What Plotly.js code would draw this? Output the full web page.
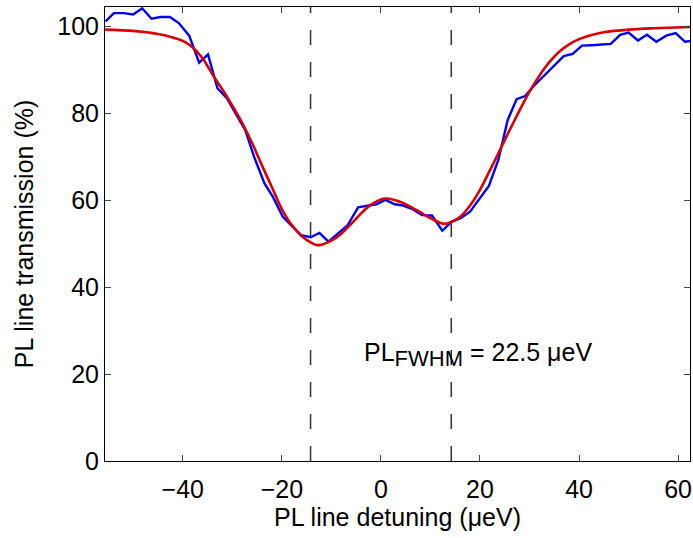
<!DOCTYPE html>
<html>
<head>
<meta charset="utf-8">
<script src="https://cdn.plot.ly/plotly-3.0.1.min.js"></script>
<style>html,body{margin:0;padding:0;background:#fff;}#chart{width:693px;height:538px;}</style>
</head>
<body>
<div id="chart"></div>
<script>
// Measured PL line transmission (blue)
const measX = [-55.6,-53.9,-51.9,-50.0,-48.2,-46.3,-44.5,-42.6,-40.8,-38.7,-36.7,-34.9,-33.0,-31.1,-29.2,-27.4,-25.6,-23.5,-21.8,-19.8,-17.8,-16.1,-14.2,-12.4,-10.6,-8.7,-6.7,-4.6,-2.6,-0.9,0.9,2.8,4.5,6.5,8.3,10.3,12.4,14.3,16.1,18.0,20.0,21.8,23.7,25.6,27.4,29.1,31.1,33.1,35.0,36.9,38.7,40.6,42.5,44.4,46.4,48.3,50.0,51.9,53.7,55.6,57.6,59.5,61.4,63.2];
const measY = [101.2,103.1,103.1,102.8,104.2,101.8,102.2,102.2,100.8,97.9,91.7,93.6,85.8,83.5,79.7,76.2,70.0,63.9,60.8,56.2,53.9,52.0,51.5,52.5,50.5,52.4,54.3,58.4,58.8,59.1,60.1,59.1,58.8,57.9,56.6,56.5,53.0,55.1,55.9,57.4,60.5,63.3,69.3,78.5,83.3,84.0,86.6,88.9,91.2,93.2,93.7,95.6,95.7,95.8,96.0,98.1,98.6,96.8,98.1,96.5,97.9,98.5,96.5,96.8];
// Fit (red)
const fitX = [-55.7,-50,-45,-42,-40,-38,-36,-34,-32,-30,-28,-26,-24,-22,-20,-18,-16,-14,-13,-12,-10,-8,-6,-4,-2,0,1,2,4,6,8,10,12,13,14,16,18,20,22,24,26,28,30,32,34,36,38,40,42,45,50,55,62.4];
const fitY = [99.3,99.0,98.3,97.5,96.7,95.2,92.7,89.0,85.5,81.8,77.8,73.2,68.0,63.0,58.0,54.3,51.8,50.2,49.7,49.8,50.7,52.3,54.6,57.0,59.0,60.2,60.4,60.3,59.6,58.5,57.2,55.9,54.8,54.6,54.9,56.2,58.8,62.4,66.9,71.5,76.2,80.7,85.0,88.7,91.8,94.2,95.9,97.1,97.9,98.7,99.3,99.6,99.9];
// FWHM markers
const fwhmX = [-14.2, 14.2];
const xTicks = [-40,-20,0,20,40,60];
const yTicks = [0,20,40,60,80,100];
const xRange = [-55.7, 62.4];
const yRange = [0, 104.5];
const labelText = 'PL<sub><span style="font-size:22px">FWHM</span></sub> = 22.5 μeV';
const labelPos = [19.7, 24.4];

const traces = [];
fwhmX.forEach(v => traces.push({
  x: [v, v], y: yRange, mode: 'lines', showlegend: false, hoverinfo: 'skip',
  line: {color: '#333', width: 1.5, dash: '15px,17px'}
}));
traces.push({x: measX, y: measY, mode: 'lines', showlegend: false,
  line: {color: '#0000ff', width: 2.4}});
traces.push({x: fitX, y: fitY, mode: 'lines', showlegend: false,
  line: {color: '#dd0000', width: 2.6, shape: 'spline', smoothing: 0.8}});

const font = {family: 'Liberation Sans, Arial, sans-serif', size: 25, color: '#000'};
const layout = {
  width: 693, height: 538,
  margin: {l: 105, r: 3, t: 7, b: 77},
  paper_bgcolor: '#fff', plot_bgcolor: '#fff',
  font: font,
  xaxis: {range: xRange, tickvals: xTicks, ticks: 'inside', ticklen: 6, tickwidth: 1,
    showline: true, mirror: 'ticks', linecolor: '#000', linewidth: 1,
    showgrid: false, zeroline: false, tickfont: font, ticklabelstandoff: 6,
    title: {text: 'PL line detuning (μeV)', font: font, standoff: 4}},
  yaxis: {range: yRange, tickvals: yTicks, ticks: 'inside', ticklen: 6, tickwidth: 1,
    showline: true, mirror: 'ticks', linecolor: '#000', linewidth: 1,
    showgrid: false, zeroline: false, tickfont: font,
    title: {text: 'PL line transmission (%)', font: font, standoff: 16}},
  annotations: [{x: labelPos[0], y: labelPos[1], xref: 'x', yref: 'y', text: labelText,
    showarrow: false, font: font}]
};
Plotly.newPlot('chart', traces, layout, {displayModeBar: false, staticPlot: true});
</script>
</body>
</html>
